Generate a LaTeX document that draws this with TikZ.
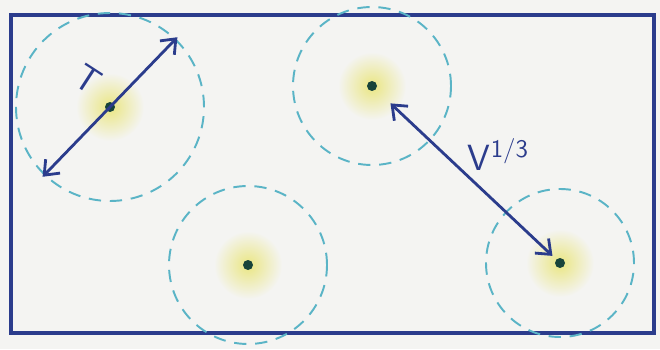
\documentclass[tikz,border=0pt]{standalone}
\usetikzlibrary{arrows.meta}
\definecolor{ink}{HTML}{2B3C8C}
\definecolor{cyanpen}{HTML}{5AB4C6}
\definecolor{dotgreen}{HTML}{18443A}
\definecolor{glow}{HTML}{EAE682}
\definecolor{paper}{HTML}{F4F4F2}
\tikzset{
  particle/.style={circle,fill=dotgreen,inner sep=0pt,minimum size=0.2cm},
  reach/.style={draw=cyanpen,line width=1.1pt,dash pattern=on 7pt off 5pt},
  pen/.style={draw=ink,line width=1.6pt,{Straight Barb[length=2.5mm,width=4mm]}-{Straight Barb[length=2.5mm,width=4mm]}},
  hand/.style={text=ink,font=\huge\sffamily}
}
\begin{document}
\begin{tikzpicture}[x=0.02cm,y=0.02cm]
\fill[paper] (0,0) rectangle (660,349);
\draw[ink,line width=2pt] (11,16) rectangle (654,334);
% particles with their glow and dashed reach
\foreach \n/\x/\y/\r in {1/110/242/94, 2/372/263/79, 3/248/84/79, 4/560/86/74}{
  \shade[inner color=glow,outer color=paper] (\x,\y) circle (34);
  \node[particle] (dot\n) at (\x,\y) {};
  \draw[reach] (dot\n) circle (\r);
}
\draw[pen] ([shift={(226:97)}]dot1.center) -- ([shift={(46:97)}]dot1.center);
\node[hand,rotate=-33] (tlabel) at (88,270) {T};
\draw[pen,shorten <=0.4cm,shorten >=0.1cm] (dot2) -- (dot4)
  node[hand,midway,above right,xshift=-3pt,yshift=-2pt] (vlabel) {V\textsuperscript{1/3}};
\end{tikzpicture}
\end{document}
